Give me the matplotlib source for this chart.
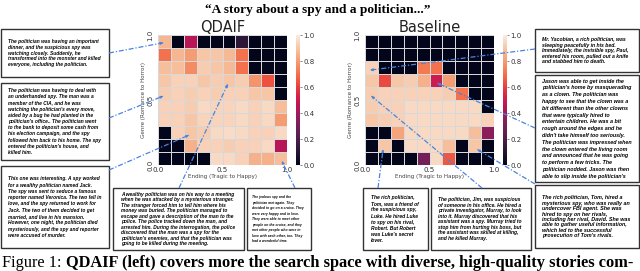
import numpy as np
import matplotlib
matplotlib.use('Agg')
import matplotlib.pyplot as plt
import seaborn as sns
from matplotlib.font_manager import FontProperties
from matplotlib.patches import Rectangle, FancyArrowPatch
from matplotlib.lines import Line2D
from matplotlib.transforms import Affine2D

W, H = 640, 271

# fitness of the best story in each bin; rows from top (genre=1, horror) to bottom,
# columns from left (ending=0, tragic) to right; 0 = empty bin
qdaif = [
    [0.86, 0.00, 0.45, 0.00, 0.00, 0.00, 0.12, 0.00, 0.00, 0.00],
    [0.70, 0.86, 0.80, 0.90, 0.90, 0.87, 0.70, 0.00, 0.00, 0.00],
    [0.88, 0.88, 0.76, 0.92, 0.90, 0.87, 0.70, 0.00, 0.00, 0.00],
    [0.90, 0.93, 0.93, 0.90, 0.92, 0.90, 0.92, 0.78, 0.64, 0.00],
    [0.92, 0.93, 0.92, 0.93, 0.92, 0.93, 0.93, 0.90, 0.90, 0.00],
    [0.93, 0.93, 0.92, 0.95, 0.94, 0.94, 0.95, 0.93, 0.95, 0.88],
    [0.93, 0.93, 0.90, 0.94, 0.94, 0.94, 0.95, 0.93, 0.95, 0.80],
    [0.00, 0.93, 0.90, 0.92, 0.95, 0.96, 0.95, 0.93, 0.93, 0.95],
    [0.00, 0.00, 0.85, 0.93, 0.93, 0.92, 0.93, 0.93, 0.95, 0.45],
    [0.00, 0.00, 0.00, 0.00, 0.95, 0.95, 0.93, 0.85, 0.85, 0.88],
]
baseline = [
    [0.00, 0.00, 0.00, 0.00, 0.00, 0.00, 0.00, 0.00, 0.00, 0.00],
    [0.00, 0.00, 0.00, 0.00, 0.00, 0.00, 0.00, 0.00, 0.00, 0.00],
    [0.93, 0.00, 0.00, 0.00, 0.72, 0.70, 0.00, 0.00, 0.00, 0.00],
    [0.90, 0.62, 0.90, 0.92, 0.85, 0.50, 0.80, 0.00, 0.00, 0.00],
    [0.92, 0.93, 0.93, 0.93, 0.93, 0.93, 0.92, 0.70, 0.00, 0.00],
    [0.92, 0.93, 0.93, 0.95, 0.95, 0.95, 0.95, 0.95, 0.95, 0.00],
    [0.90, 0.92, 0.93, 0.95, 0.95, 0.95, 0.95, 0.95, 0.95, 0.93],
    [0.00, 0.00, 0.82, 0.95, 0.95, 0.95, 0.95, 0.95, 0.88, 0.35],
    [0.00, 0.90, 0.00, 0.95, 0.95, 0.95, 0.88, 0.00, 0.90, 0.00],
    [0.00, 0.00, 0.00, 0.00, 0.30, 0.95, 0.65, 0.00, 0.00, 0.00],
]
titles = ['QDAIF', 'Baseline']
tick_vals = [0.0, 0.5, 1.0]
tick_labels = ['0.0', '0.5', '1.0']
cbar_ticks = [0.0, 0.2, 0.4, 0.6, 0.8, 1.0]
xlabel = 'Ending (Tragic to Happy)'
ylabel = 'Genre (Romance to Horror)'
suptitle = '\u201cA story about a spy and a politician...\u201d'
caption_plain = 'Figure 1: '
caption_bold = 'QDAIF (left) covers more the search space with diverse, high-quality stories com-'

stories = [
    "The politician was having an important dinner, and the suspicious spy was watching closely. Suddenly, he transformed into the monster and killed everyone, including the politician.",
    "The politician was having to deal with an underhanded spy. The man was a member of the CIA, and he was watching the politician's every move, aided by a bug he had planted in the politician's office.. The politician went to the bank to deposit some cash from his election campaign, and the spy followed him back to his home. The spy entered the politician's house, and killed him.",
    "This one was interesting. A spy worked for a wealthy politician named Jack. The spy was sent to seduce a famous reporter named Veronica. The two fell in love, and the spy returned to work for Jack. The two of them decided to get married, and live in his mansion. However, one night, the politician died mysteriously, and the spy and reporter were accused of murder.",
    "A wealthy politician was on his way to a meeting when he was attacked by a mysterious stranger. The stranger forced him to tell him where his money was buried. The politician managed to escape and gave a description of the man to the police. The police tracked down the man, and arrested him. During the interrogation, the police discovered that the man was a spy for the politician's enemies, and that the politician was going to be killed during the meeting.",
    "The jealous spy and the politician met again. They decided to go on a cruise. They were very happy and in love. They were able to meet other people on the cruise, and they met other people who were in love with each other, too. They had a wonderful time.",
    "The rich politician, Tom, was a friend of the suspicious spy, Luke. He hired Luke to spy on his rival, Robert. But Robert was Luke's secret lover.",
    "The politician, Jim, was suspicious of someone in his office. He hired a private investigator, Murray, to look into it. Murray discovered that his assistant was a spy. Murray tried to stop him from hurting his boss, but the assistant was skilled at killing, and he killed Murray.",
    "Mr. Yacobian, a rich politician, was sleeping peacefully in his bed. Immediately, the invisible spy, Paul, entered his room, pulled out a knife and stabbed him to death.",
    "Jason was able to get inside the politician's home by masquerading as a clown. The politician was happy to see that the clown was a bit different than the other clowns that were typically hired to entertain children. He was a bit rough around the edges and he didn't take himself too seriously. The politician was impressed when the clown entered the living room and announced that he was going to perform a few tricks. The politician nodded. Jason was then able to slip inside the politician's",
    "The rich politician, Tom, hired a mysterious spy, who was really an undercover FBI agent. She was hired to spy on her rivals, including her rival, David. She was able to gather useful information, which led to the successful prosecution of Tom's rivals.",
]
# which map each story comes from, and its (ending, genre) position
story_map = [0, 0, 0, 0, 0, 1, 1, 1, 1, 1]
story_pos = [(0.04, 0.94), (0.04, 0.53), (0.24, 0.23), (0.54, 0.62), (0.96, 0.03),
             (0.14, 0.12), (0.05, 0.53), (0.04, 0.73), (0.56, 0.63), (0.87, 0.12)]

# layout in pixels (x from left, y from top); each box was a separately scaled image
boxes = [(1, 29, 109, 77), (1, 83, 109, 160), (1, 166, 109, 248),
         (113, 188, 244, 250), (247, 188, 311, 250),
         (363, 188, 428, 250), (431, 188, 531, 250),
         (535, 29, 639, 72), (535, 75, 639, 182), (535, 185, 639, 248)]
box_fs = [3.55, 3.55, 3.55, 3.5, 2.4, 3.6, 3.65, 3.7, 3.9, 3.85]
box_lsp = [5.6, 6.2, 6.3, 5.5, 5.5, 6.2, 5.5, 5.4, 6.8, 5.4]
box_pad = [7, 7, 7, 8, 5, 8, 7, 7, 7, 7]
anchors = [(109, 53), (109, 118), (109, 170), (179, 188), (295, 188),
           (378, 188), (482, 188), (535, 49), (535, 128), (535, 184)]
ax_px = [(158, 35, 287, 165), (365, 35, 494, 165)]
cb_px = [(296, 35, 300, 165), (503, 35, 507, 165)]

fig = plt.figure(figsize=(W / 100, H / 100), dpi=100)
pxT = Affine2D().scale(1 / W, -1 / H).translate(0, 1) + fig.transFigure


def rect(p):
    x0, y0, x1, y1 = p
    return [x0 / W, 1 - y1 / H, (x1 - x0) / W, (y1 - y0) / H]


cmap = sns.color_palette('rocket', as_cmap=True)
edges = np.linspace(0, 1, 11)
axes = []
for k, data in enumerate([qdaif, baseline]):
    ax = fig.add_axes(rect(ax_px[k]))
    m = ax.pcolormesh(edges, edges, np.flipud(np.array(data)), cmap=cmap, vmin=0, vmax=1,
                      edgecolors='#d8d8d8', linewidth=0.45)
    ax.set_xlim(0, 1)
    ax.set_ylim(0, 1)
    for s in ax.spines.values():
        s.set_visible(False)
    ax.set_xticks(tick_vals, tick_labels)
    ax.set_yticks(tick_vals, tick_labels, rotation=90, va='center')
    ax.tick_params(axis='x', length=0, pad=1.5, labelsize=5.1, labelcolor='#333333')
    ax.tick_params(axis='y', length=0, pad=3.5, labelsize=5.1, labelcolor='#333333')
    ax.set_xlabel(xlabel, fontsize=4.1, color='#444444', labelpad=1)
    ax.set_ylabel(ylabel, fontsize=4.1, color='#444444', labelpad=0.5)
    ax.set_title(titles[k], fontsize=10.5, pad=1.5, color='#222222')
    cax = fig.add_axes(rect(cb_px[k]))
    cb = fig.colorbar(m, cax=cax, ticks=cbar_ticks)
    cb.outline.set_visible(False)
    cax.tick_params(length=1.5, width=0.5, pad=1, labelsize=5, labelcolor='#333333', color='#555555')
    axes.append(ax)

fig.text(0.497, 1 - 10 / H, suptitle, ha='center', va='center', fontsize=9.6,
         family='Liberation Serif', weight='bold')

renderer = fig.canvas.get_renderer()


def tw(s, prop):
    return renderer.get_text_width_height_descent(s, prop, ismath=False)[0]


def story_box(text, box, fs, lsp, pad):
    fp = FontProperties(family='Liberation Sans', style='italic', weight='bold', size=fs)
    x0, y0, x1, y1 = box
    fig.add_artist(Rectangle((x0, y0), x1 - x0, y1 - y0, transform=pxT, fill=False,
                             ec='#333333', lw=1.0))
    width = x1 - x0 - 2 * pad
    lines, cur = [], []
    for w in text.split():
        if cur and tw(' '.join(cur + [w]), fp) > width:
            lines.append(cur)
            cur = [w]
        else:
            cur = cur + [w]
    lines.append(cur)
    ybase = (y0 + y1) / 2 - (len(lines) - 1) * lsp / 2 + fs * 0.45
    for i, ln in enumerate(lines):
        fig.text(x0 + pad, ybase + i * lsp, ' '.join(ln), transform=pxT,
                 fontproperties=fp, va='baseline', ha='left')


for text, box, fs, lsp, pad in zip(stories, boxes, box_fs, box_lsp, box_pad):
    story_box(text, box, fs, lsp, pad)

blue = '#4a84e0'
for (sx, sy), k, pos in zip(anchors, story_map, story_pos):
    dx, dy = axes[k].transData.transform(pos)
    tx, ty = dx, H - dy
    fig.add_artist(Line2D([sx, tx], [sy, ty], transform=pxT, color=blue, lw=0.9,
                          ls=(0, (4, 1.5, 1, 1.5))))
    v = np.array([tx - sx, ty - sy])
    v = v / np.hypot(*v)
    fig.add_artist(FancyArrowPatch((tx - 3 * v[0], ty - 3 * v[1]), (tx, ty), transform=pxT,
                                   arrowstyle='-|>', mutation_scale=4, color=blue, lw=0.6,
                                   shrinkA=0, shrinkB=0))

# caption, cut off by the bottom edge like the source
cfs = 10.5
fpn = FontProperties(family='Liberation Serif', size=cfs)
fpb = FontProperties(family='Liberation Serif', size=cfs, weight='bold')
scale = 636 / (tw(caption_plain, fpn) + tw(caption_bold, fpb))
fpn.set_size(cfs * scale)
fpb.set_size(cfs * scale)
fig.text(2, 267, caption_plain, transform=pxT, fontproperties=fpn, va='baseline')
fig.text(2 + tw(caption_plain, fpn), 267, caption_bold, transform=pxT, fontproperties=fpb,
         va='baseline')

fig.savefig('out.png', dpi=100)
